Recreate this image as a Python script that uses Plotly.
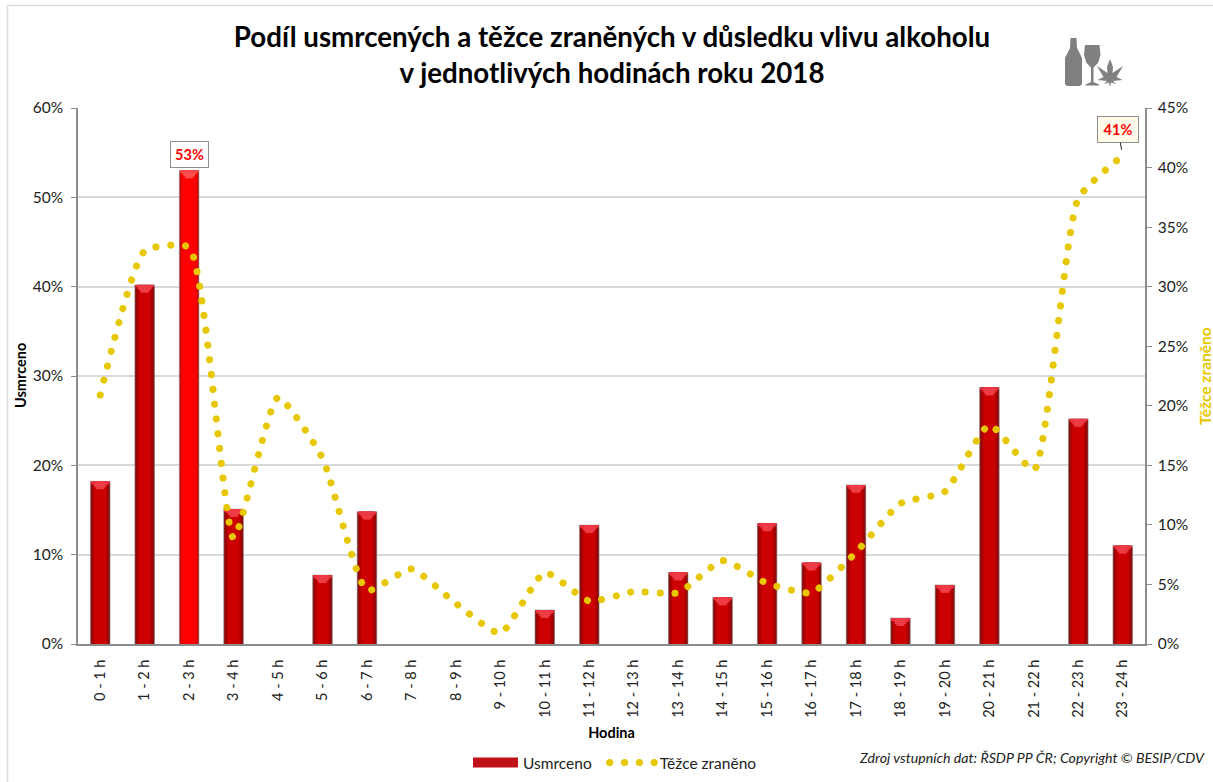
import plotly.graph_objects as go

hours = [f"{h} - {h+1} h" for h in range(24)]
killed = [18.2, 40.2, 53.0, 15.1, 0, 7.7, 14.8, 0, 0, 0, 3.8, 13.3, 0, 8.0, 5.2, 13.5, 9.1, 17.8, 2.9, 6.6, 28.7, 0, 25.2, 11.0]
injured = [20.9, 33.0, 33.3, 8.9, 20.7, 15.6, 4.5, 6.3, 3.4, 0.9, 6.0, 3.6, 4.4, 4.3, 7.0, 5.1, 4.3, 7.7, 11.8, 12.8, 18.4, 14.6, 37.4, 41.0]
HIGHLIGHT = 2
FONT = "Lato"
W, H = 1213, 782
L, R, T, B = 78, 1145, 108, 644

def px(x): return (x - L) / (R - L)
def py(y): return (B - y) / (B - T)
def path(pts):
    return "M " + " L ".join(f"{px(x):.5f},{py(y):.5f}" for x, y in pts) + " Z"

fig = go.Figure()

def layer(width, colors, ys=None, base=None, line=None):
    fig.add_trace(go.Bar(x=hours, y=ys if ys is not None else killed, base=base, width=width,
                         marker=dict(color=colors, line=line or dict(width=0)),
                         showlegend=False, hoverinfo="skip", yaxis="y"))

def colors(normal, high):
    return [high if i == HIGHLIGHT else normal for i in range(24)]

layer(0.44, colors("#8a1010", "#c01010"),
      line=dict(color="rgba(120,120,120,0.55)", width=[1 if v > 0 else 0 for v in killed]))
layer(0.37, colors("#a80000", "#ee0000"))
layer(0.27, colors("#cc0000", "#ff0000"))
cap = [0.22 if v > 0 else 0 for v in killed]
for w, f, c in [(0.42, 1, ("#e8303c", "#ff4040")), (0.34, 2, ("#ea343f", "#ff4444")),
                (0.26, 3, ("#ec3842", "#ff4a4a")), (0.18, 4, ("#ee3c46", "#ff4c4c"))]:
    layer(w, colors(*c), ys=[k * f for k in cap], base=[v - k * f for v, k in zip(killed, cap)])

fig.add_trace(go.Scatter(x=[None], y=[None], mode="lines", name="Usmrceno\u00a0\u00a0", yaxis="y",
                         line=dict(color="#c01018", width=14), hoverinfo="skip"))
fig.add_trace(go.Scatter(x=hours, y=injured, mode="lines", name="Těžce zraněno", yaxis="y2",
                         line=dict(color="#e6c700", width=7, shape="spline", smoothing=0.5, dash="0.1px,14.75px")))

axis_line = "#8c8c8c"
fig.update_layout(
    width=W, height=H, autosize=False,
    margin=dict(l=L, r=W - R, t=T, b=H - B, pad=0, autoexpand=False),
    paper_bgcolor="white", plot_bgcolor="white",
    barmode="overlay",
    font=dict(family=FONT, color="#222222", size=15),
    title=dict(text="<b>Podíl usmrcených a těžce zraněných v důsledku vlivu alkoholu<br>v jednotlivých hodinách roku 2018</b>",
               x=612 / W, xanchor="center", y=1 - 47 / H, yanchor="top",
               font=dict(family=FONT, size=27.7, color="black")),
    xaxis=dict(type="category", categoryorder="array", categoryarray=hours, range=[-0.5, 23.5],
               tickangle=-90, tickfont=dict(size=14.5, family=FONT, color="#222222"), ticks="", ticklabelstandoff=8,
               showline=True, linecolor=axis_line, linewidth=1.5, showgrid=False,
               title=dict(text="<b>Hodina</b>", font=dict(size=14.5, color="black"), standoff=11)),
    yaxis=dict(range=[0, 60], dtick=10, ticksuffix="%", showline=True, linecolor=axis_line, linewidth=1.5,
               ticks="outside", ticklen=5, tickcolor=axis_line, gridcolor="#d9d9d9", gridwidth=1.5, zeroline=False,
               tickfont=dict(size=15.5), ticklabelstandoff=5),
    yaxis2=dict(range=[0, 45], dtick=5, ticksuffix="%", overlaying="y", side="right", showline=True,
                linecolor=axis_line, linewidth=1.5, ticks="outside", ticklen=5, tickcolor=axis_line,
                showgrid=False, zeroline=False, tickfont=dict(size=15.5), ticklabelstandoff=3),
    legend=dict(orientation="h", x=px(468), xanchor="left", y=py(763), yanchor="middle",
                itemwidth=45, font=dict(size=15.5),
                bgcolor="rgba(0,0,0,0)", traceorder="normal", tracegroupgap=0),
    shapes=[
        dict(type="rect", xref="paper", yref="paper", x0=px(7.5), x1=px(1300), y0=py(5.5), y1=py(900),
             line=dict(color="#dcdcdc", width=1.5), fillcolor="rgba(0,0,0,0)", layer="below"),
        # bottle
        dict(type="path", xref="paper", yref="paper", fillcolor="#808080", line=dict(width=0),
             path=path([(1070.5, 38), (1076.5, 38), (1077, 48), (1079.5, 53), (1082, 58), (1082, 84), (1080, 86),
                        (1067, 86), (1065, 84), (1065, 58), (1067.5, 53), (1070, 48)])),
        # glass
        dict(type="path", xref="paper", yref="paper", fillcolor="#808080", line=dict(width=0),
             path=path([(1085, 45), (1099.5, 45), (1100.5, 55), (1098, 63), (1093.5, 67.5), (1093.5, 82),
                        (1099, 84.5), (1099, 85.5), (1085.5, 85.5), (1085.5, 84.5), (1091, 82), (1091, 67.5),
                        (1086.5, 63), (1084, 55)])),
        # leaf
        dict(type="path", xref="paper", yref="paper", fillcolor="#808080", line=dict(width=0),
             path=path([(1110, 59), (1113, 67), (1112.5, 73), (1123, 66), (1116.5, 77), (1122.5, 80), (1113, 81),
                        (1116, 84), (1111, 82.5), (1110.5, 85.5), (1109.5, 85.5), (1109, 82.5), (1104, 84),
                        (1107, 81), (1097.5, 80), (1103.5, 77), (1097, 66), (1107.5, 73), (1107, 67)])),
    ],
    annotations=[
        dict(x=hours[2], y=killed[2], xref="x", yref="y", text="<b>53%</b>", showarrow=False, yshift=16.5,
             width=35, height=23, bgcolor="white", bordercolor="#8f8f8f", borderwidth=1,
             font=dict(size=14.5, color="#ff0000")),
        dict(x=hours[23], y=injured[23], xref="x", yref="y2", text="<b>41%</b>", showarrow=True, arrowhead=0,
             arrowwidth=1, arrowcolor="#222222", ax=-5, ay=-26, standoff=6,
             width=38, height=23, bgcolor="#fffbe8", bordercolor="#8f8f8f", borderwidth=1,
             font=dict(size=14.5, color="#ff0000")),
        dict(xref="paper", yref="paper", x=px(20), xanchor="center", y=py(376), text="<b>Usmrceno</b>", textangle=-90,
             showarrow=False, font=dict(size=14.5, color="black")),
        dict(xref="paper", yref="paper", x=px(1205), xanchor="center", y=py(376), text="<b>Těžce zraněno</b>", textangle=-90,
             showarrow=False, font=dict(size=15.5, color="#e6c700")),
        dict(xref="paper", yref="paper", x=px(1207), y=py(768), xanchor="right", text="<i>Zdroj vstupních dat: ŘSDP PP ČR; Copyright © BESIP/CDV</i>",
             showarrow=False, font=dict(size=14.2, color="#222222")),
    ],
)

post = """
document.body.style.margin='0';
document.documentElement.style.overflow='hidden';
var s=document.createElement('style');
s.textContent='.js-line[style*="0.1px"]{stroke-linecap:round}';
document.head.appendChild(s);
"""
fig.write_html("out.html", post_script=post, config={"displayModeBar": False})
